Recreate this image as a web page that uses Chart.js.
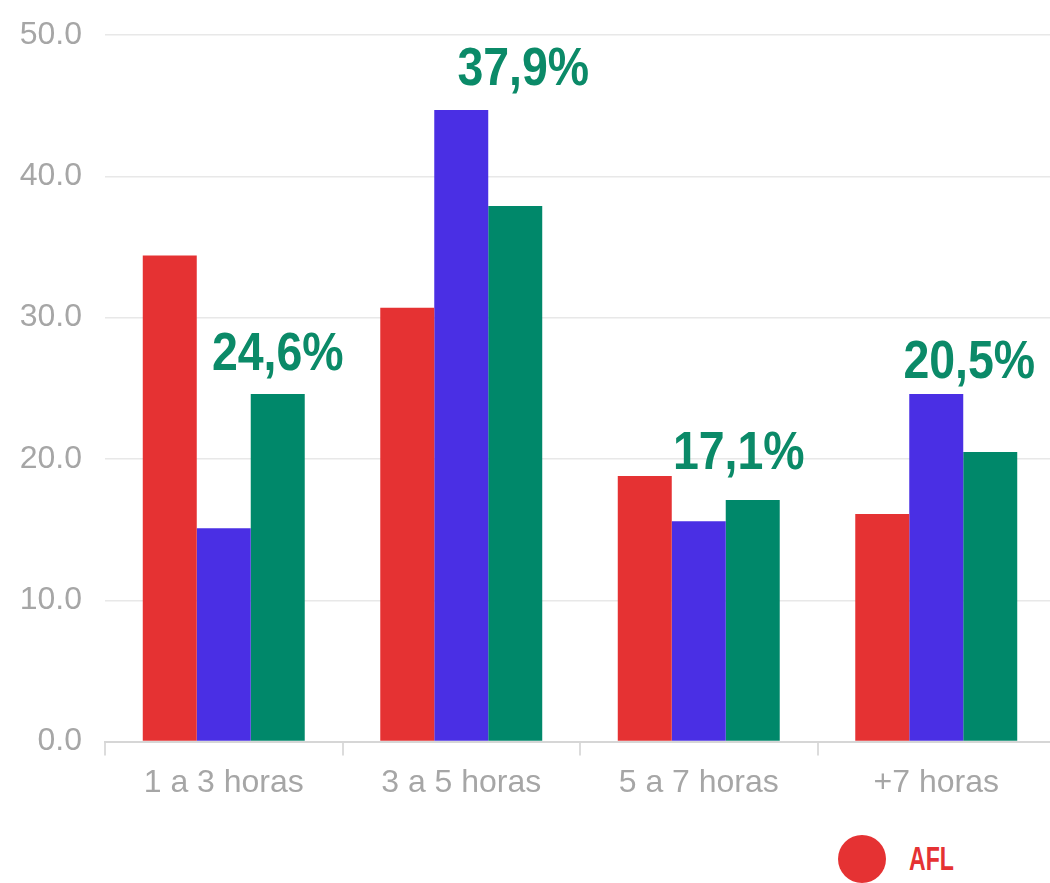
<!DOCTYPE html>
<html lang="pt">
<head>
<meta charset="utf-8">
<script src="https://cdn.jsdelivr.net/npm/chart.js@4.4.1/dist/chart.umd.min.js"></script>
<style>
  html, body { margin: 0; padding: 0; background: #ffffff; overflow: hidden; }
  #wrap { position: relative; width: 1062px; height: 883px; }
  #chart { position: absolute; left: 0; top: 0; }
  #legend {
    position: absolute; left: 838px; top: 835px;
    display: flex; align-items: center; white-space: nowrap;
    font-family: 'Liberation Sans', Arial, sans-serif;
    font-weight: bold; font-size: 33px;
  }
  #legend .item { display: flex; align-items: center; margin-right: 140px; }
  #legend .dot { width: 48px; height: 48px; border-radius: 50%; margin-right: 23px; flex: none; }
  #legend .name { display: inline-block; transform: scaleX(0.7); transform-origin: left center; }
</style>
</head>
<body>
<div id="wrap">
  <canvas id="chart" width="1062" height="810"></canvas>
  <div id="legend"></div>
</div>
<script>
// Horas por dia, percentual de respondentes
const categories = ['1 a 3 horas', '3 a 5 horas', '5 a 7 horas', '+7 horas'];
const seriesNames = ['AFL', 'Setor', 'Total'];
const aflValues = [34.4, 30.7, 18.8, 16.1];
const setorValues = [15.1, 44.7, 15.6, 24.6];
const totalValues = [24.6, 37.9, 17.1, 20.5];
const yTicks = [0, 10, 20, 30, 40, 50];

const colors = ['#e53233', '#4a2fe4', '#00886a'];
const labelColor = '#0b8a68';
// placement of the highlighted percentage labels, relative to each "Total" bar (px)
const labelShift = [
  { dx: 0, dy: -24 },
  { dx: 8, dy: -121 },
  { dx: -14, dy: -31 },
  { dx: -21, dy: -74 }
];

const percentLabels = {
  id: 'percentLabels',
  afterDatasetsDraw(chart) {
    const ctx = chart.ctx;
    const meta = chart.getDatasetMeta(2);
    const squeeze = 0.86;
    ctx.save();
    ctx.font = "bold 54px 'Liberation Sans', Arial, sans-serif";
    ctx.fillStyle = labelColor;
    ctx.textAlign = 'center';
    ctx.textBaseline = 'alphabetic';
    meta.data.forEach((bar, i) => {
      const txt = totalValues[i].toFixed(1).replace('.', ',') + '%';
      const x = bar.x + labelShift[i].dx;
      const y = bar.y + labelShift[i].dy;
      ctx.save();
      ctx.translate(x, y);
      ctx.scale(squeeze, 1);
      ctx.fillText(txt, 0, 0);
      ctx.restore();
    });
    ctx.restore();
  }
};

Chart.defaults.font.family = "'Liberation Sans', Arial, sans-serif";
Chart.defaults.color = '#a6a6a6';

const chart = new Chart(document.getElementById('chart'), {
  type: 'bar',
  data: {
    labels: categories,
    datasets: [
      { label: seriesNames[0], data: aflValues, backgroundColor: colors[0] },
      { label: seriesNames[1], data: setorValues, backgroundColor: colors[1] },
      { label: seriesNames[2], data: totalValues, backgroundColor: colors[2] }
    ]
  },
  options: {
    responsive: false,
    animation: false,
    events: [],
    layout: { padding: { left: 18, right: 7, top: 35, bottom: 0 } },
    datasets: { bar: { barPercentage: 1.0, categoryPercentage: 0.682, borderWidth: 0 } },
    plugins: {
      legend: { display: false },
      tooltip: { enabled: false }
    },
    scales: {
      x: {
        grid: { drawOnChartArea: false, drawTicks: true, tickLength: 14, color: '#dcdcdc', lineWidth: 2 },
        border: { display: true, color: '#d6d6d6', width: 2 },
        ticks: { font: { size: 32 }, color: '#a6a6a6', padding: 8 }
      },
      y: {
        min: yTicks[0],
        max: yTicks[yTicks.length - 1],
        afterBuildTicks(axis) { axis.ticks = yTicks.map(v => ({ value: v })); },
        afterFit(axis) { axis.width = 87; axis.paddingTop = 0; axis.paddingBottom = 0; },
        grid: { drawTicks: false, color: '#e8e8e8', lineWidth: 1.5 },
        border: { display: false },
        ticks: {
          font: { size: 32 }, color: '#a6a6a6', padding: 23,
          callback: v => Number(v).toFixed(1)
        }
      }
    }
  },
  plugins: [percentLabels]
});

// legend row
const legend = document.getElementById('legend');
seriesNames.forEach((name, i) => {
  const item = document.createElement('div');
  item.className = 'item';
  const dot = document.createElement('span');
  dot.className = 'dot';
  dot.style.background = colors[i];
  const txt = document.createElement('span');
  txt.className = 'name';
  txt.textContent = name;
  txt.style.color = colors[i];
  item.appendChild(dot);
  item.appendChild(txt);
  legend.appendChild(item);
});
</script>
</body>
</html>
